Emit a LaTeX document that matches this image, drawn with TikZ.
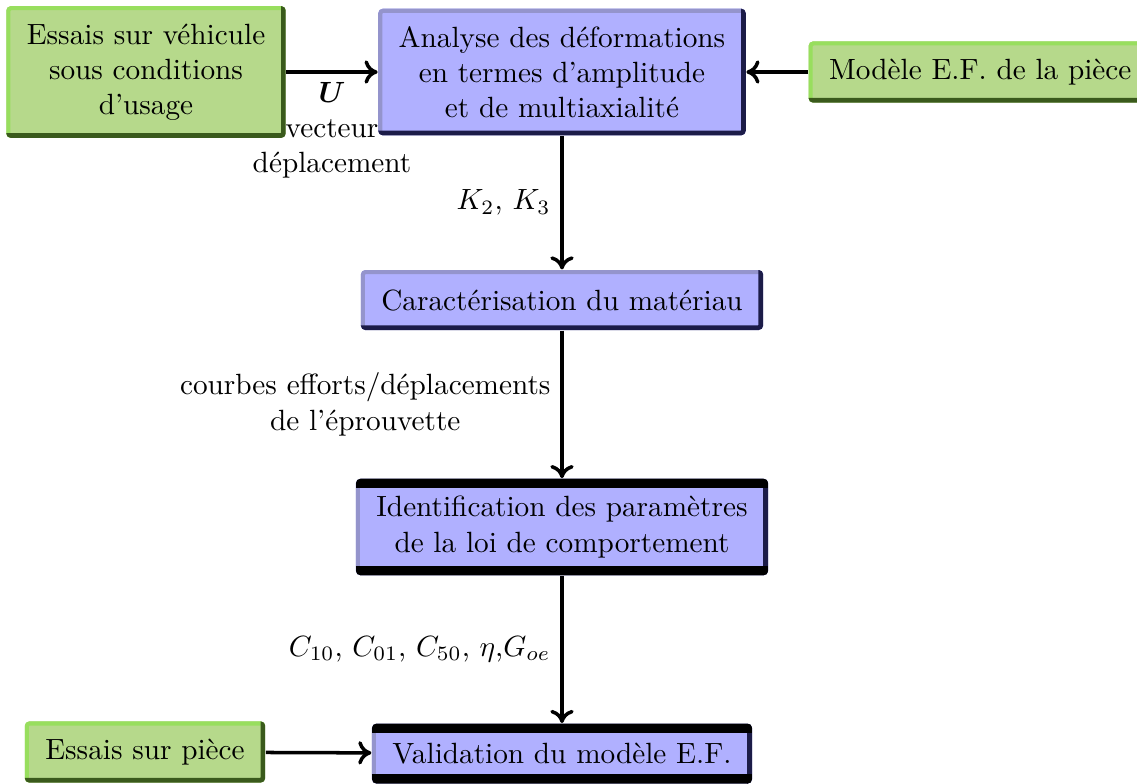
\documentclass[tikz,border=0pt]{standalone}
\usepackage{amsmath}
\usepackage{bm}
\usetikzlibrary{positioning, arrows.meta, calc}
\definecolor{cBLEU}{HTML}{B0B0FF}
\definecolor{cBLEUclair}{HTML}{9494CC}
\definecolor{cBLEUfonce}{HTML}{1C1C48}
\definecolor{cVERT}{HTML}{B6D98B}
\definecolor{cVERTclair}{HTML}{98DE5E}
\definecolor{cVERTfonce}{HTML}{3A5A1C}
\tikzset{
  bord/.style 2 args={
    path picture={
      \draw[line width=2.8pt, #1]
        (path picture bounding box.south west) -- (path picture bounding box.north west)
        -- (path picture bounding box.north east);
      \draw[line width=3.2pt, #2]
        (path picture bounding box.north east) -- (path picture bounding box.south east)
        -- (path picture bounding box.south west);
    }
  },
  bordcle/.style={
    path picture={
      \draw[line width=2.8pt, cBLEUclair]
        (path picture bounding box.south west) -- (path picture bounding box.north west);
      \draw[line width=3.2pt, cBLEUfonce]
        (path picture bounding box.north east) -- (path picture bounding box.south east);
      \draw[line width=6.5pt, black]
        (path picture bounding box.north west) -- (path picture bounding box.north east)
        (path picture bounding box.south west) -- (path picture bounding box.south east);
    }
  },
  etape/.style={
    rounded corners=1.5pt,
    fill=cBLEU,
    bord={cBLEUclair}{cBLEUfonce},
    inner xsep=7pt, inner ysep=6pt,
    minimum height=20.5pt,
    align=center
  },
  etapecle/.style={
    etape,
    bordcle
  },
  essai/.style={
    etape,
    fill=cVERT,
    bord={cVERTclair}{cVERTfonce}
  },
  fleche/.style={
    -{To[length=4.5pt,width=8pt]},
    line width=1.2pt,
    draw=black
  },
  etiquette/.style={
    align=center,
    midway
  }
}

\begin{document}
\begin{tikzpicture}[x=0.3417pt, y=-0.3417pt]
  \useasboundingbox (0,0) rectangle (1137,783);

  % colonne principale
  \node[etape] (analyse) at (562,72) {Analyse des déformations\\en termes d'amplitude\\et de multiaxialité};
  \node[etape] (caract) at (562,300) {Caractérisation du matériau};
  \node[etapecle] (ident) at (562,527) {Identification des paramètres\\de la loi de comportement};
  \node[etapecle, anchor=north] (valid) at (562,723) {Validation du modèle E.F.};

  % entrees
  \node[essai] (vehicule) at (146,72) {Essais sur véhicule\\sous conditions\\d'usage};
  \node[essai, anchor=west] (modele) at (808,72) {Modèle E.F. de la pièce};
  \node[essai] (piece) at (145,752) {Essais sur pièce};

  \draw[fleche] (vehicule) -- node[etiquette, below=2pt, inner sep=1pt]{$\boldsymbol{U}$\\vecteur\\déplacement} (analyse);
  \draw[fleche] (modele) -- (analyse);
  \draw[fleche] (analyse) -- node[etiquette, left]{$K_2$, $K_3$} (caract);
  \draw[fleche] (caract) -- node[etiquette, left]{courbes efforts/déplacements\\de l'éprouvette} (ident);
  \draw[fleche] (ident) -- node[etiquette, left]{$C_{10}$, $C_{01}$, $C_{50}$, $\eta$,$G_{oe}$} (valid);
  \draw[fleche] (piece) -- (valid);
\end{tikzpicture}
\end{document}
